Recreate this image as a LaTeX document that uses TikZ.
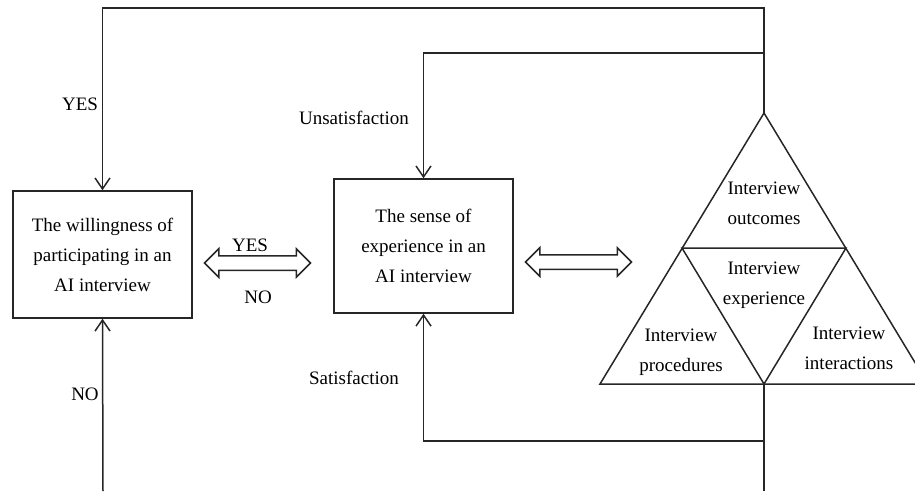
\documentclass[tikz,border=0pt]{standalone}
\usepackage{fontspec}
\setmainfont{Liberation Serif}
\usetikzlibrary{arrows.meta,shapes.arrows}
\tikzstyle{block} = [align=center,draw=black!85,line width=1.5pt,rectangle,text centered,minimum width=179pt,font=\fontsize{19}{30}\selectfont]
\tikzstyle{data} = [align=center,text centered,font=\fontsize{19}{30}\selectfont]
\tikzstyle{link} = [draw=black!85,line width=1.5pt,double arrow,inner xsep=0pt,inner ysep=6.5pt,minimum height=106pt,double arrow head extend=7pt]
\tikzstyle{flow} = [draw=black!85,line width=1.5pt,-{Straight Barb[length=11pt,width=15pt]}]
\tikzstyle{edge} = [draw=black!85,line width=1.5pt]

\begin{document}
\begin{tikzpicture}[x=1pt,y=-1pt]
\useasboundingbox (0,0) rectangle (915,491);
\node (will) [block,minimum height=127pt] at (102.5,254.5) {The willingness of\\participating in an\\AI interview};
\node (sense) [block,minimum height=134pt] at (423.5,246) {The sense of\\experience in an\\AI interview};
\node (link1) [link] at (257.5,263) {};
\node (link2) [link] at (578.5,262) {};
\node (yes1) [data] at (250,245) {YES};
\node (no1) [data] at (258,297) {NO};
% triangle of the three parts
\coordinate (apex) at (764,113);
\coordinate (lc) at (600,384);
\coordinate (rc) at (928,384);
\coordinate (ml) at (682,248);
\coordinate (mr) at (846,248);
\coordinate (bm) at (764,384);
\draw [edge] (apex) -- (lc) -- (rc) -- cycle;
\draw [edge] (ml) -- (mr) -- (bm) -- cycle;
\node (outc) [data] at (764,203) {Interview\\outcomes};
\node (expe) [data] at (764,285) {Interview\\experience};
\node (proc) [data] at (681,352) {Interview\\procedures};
\node (intr) [data] at (849,348) {Interview\\interactions};
% feedback loops
\coordinate (top1) at (764,8);
\coordinate (top2) at (764,53);
\coordinate (low1) at (764,441);
\coordinate (bot1) at (764,491);
\coordinate (bot2) at (103,491);
\draw [flow] (apex) -- (top1) -| (will.north);
\draw [flow] (top2) -| (sense.north);
\draw [edge] (bm) -- (bot1);
\draw [flow] (low1) -| (sense.south);
\draw [flow] (bot2) -- (will.south);
\node (yes2) [data] at (80,104) {YES};
\node (unsat) [data] at (354,118) {Unsatisfaction};
\node (sat) [data] at (354,378) {Satisfaction};
\node (no2) [data] at (85,394) {NO};
\end{tikzpicture}
\end{document}
